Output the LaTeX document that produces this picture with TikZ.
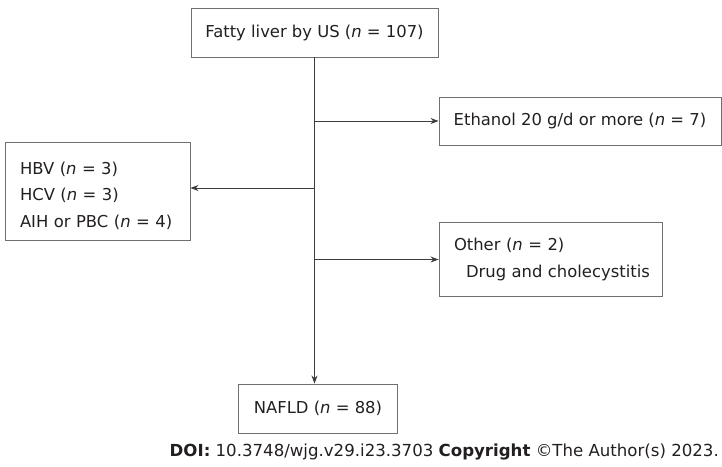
\documentclass[tikz,border=0pt]{standalone}
\usepackage{fontspec}
\setmainfont{DejaVu Sans}
\usetikzlibrary{arrows.meta}
\definecolor{boxgray}{RGB}{112,112,112}
\definecolor{linegray}{RGB}{60,60,60}
\definecolor{textdark}{RGB}{35,31,32}
\newcommand{\boxfont}{\fontsize{16.4}{26.6}\selectfont}
\tikzset{box/.style = {draw = boxgray, line width = 0.9, inner sep = 0, text = textdark, font = \boxfont}}
\tikzset{flow/.style = {draw = linegray, line width = 0.9, -{Stealth[length = 8, width = 6]}}}

\begin{document}
\begin{tikzpicture}[x = 1pt, y = -1pt]
    \useasboundingbox (0, 0) rectangle (722, 466);

    % boxes
    \node [box, minimum width = 247, minimum height = 49] (fatty) at (314.5, 32.5) {Fatty liver by US (\textit{n} = 107)};
    \node [box, minimum width = 282, minimum height = 48] (ethanol) at (580, 121) {Ethanol 20 g/d or more (\textit{n} = 7)};
    \node [box, text width = 155.5, minimum height = 98, inner xsep = 14.5, align = left] (hbv) at (97.75, 191)
        {\rule{0pt}{21.5pt}HBV (\textit{n} = 3)\\HCV (\textit{n} = 3)\\AIH or PBC (\textit{n} = 4)};
    \node [box, text width = 193.5, minimum height = 74, inner xsep = 15, align = left] (other) at (550.75, 259.5)
        {Other (\textit{n} = 2)\\\mbox{\hspace*{12pt}Drug and cholecystitis}};
    \node [box, minimum width = 159.5, minimum height = 49] (nafld) at (318, 408.5) {NAFLD (\textit{n} = 88)};

    % trunk and branches
    \coordinate (split1) at (fatty.south |- ethanol.west);
    \coordinate (split2) at (314.5, 188);
    \coordinate (split3) at (fatty.south |- other.west);
    \draw [flow] (fatty.south) -- (fatty.south |- nafld.north);
    \draw [flow] (split1) -- (ethanol.west);
    \draw [flow] (split2) -- (split2 -| hbv.east);
    \draw [flow] (split3) -- (other.west);

    \node [anchor = east, inner sep = 0, text = textdark, font = \fontsize{16.6}{19}\selectfont] (doi) at (719, 452)
        {\textbf{DOI:} 10.3748/wjg.v29.i23.3703 \textbf{Copyright} ©The Author(s) 2023.};
\end{tikzpicture}
\end{document}
